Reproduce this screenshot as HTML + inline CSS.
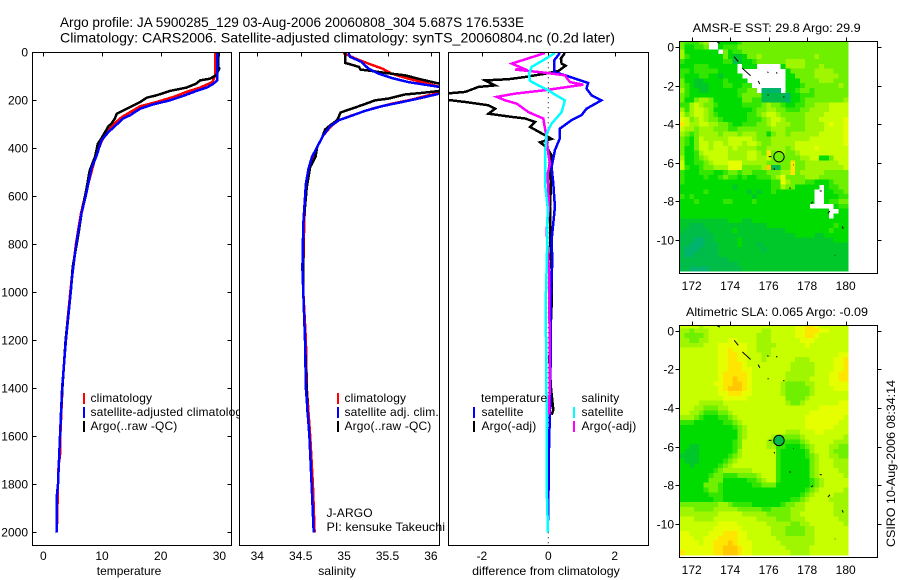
<!DOCTYPE html>
<html>
<head>
<meta charset="utf-8">
<title>Argo profile</title>
<style>
html,body{margin:0;padding:0;background:#fff;}
svg{display:block;}
text{font-family:"Liberation Sans",sans-serif;font-size:12px;fill:#000;}
.title{font-size:14px;}
.leg{letter-spacing:.15px;}
</style>
</head>
<body>
<svg id="chart" xmlns="http://www.w3.org/2000/svg" width="900" height="580" viewBox="0 0 900 580">
<defs>
<clipPath id="clip-temp"><rect x="32" y="52" width="200" height="494"/></clipPath>
<clipPath id="clip-sal"><rect x="239" y="52" width="201" height="494"/></clipPath>
<clipPath id="clip-diff"><rect x="448" y="52" width="201" height="494"/></clipPath>
<clipPath id="clip-sst"><rect x="679" y="41.5" width="199" height="232"/></clipPath>
<clipPath id="clip-sla"><rect x="679" y="325.5" width="199" height="232"/></clipPath>
</defs>
<rect x="0" y="0" width="900" height="580" fill="#fff"/>
<text class="title" x="60" y="27" textLength="464" lengthAdjust="spacingAndGlyphs">Argo profile: JA 5900285_129 03-Aug-2006 20060808_304 5.687S 176.533E</text>
<text class="title" x="60" y="42.5" textLength="555" lengthAdjust="spacingAndGlyphs">Climatology: CARS2006. Satellite-adjusted climatology: synTS_20060804.nc (0.2d later)</text>

<g id="panel-temp"></g>
<g>
<rect x="83" y="393" width="2" height="11" fill="#f00"/>
<rect x="83" y="407" width="2" height="11" fill="#00f"/>
<rect x="83" y="421" width="2" height="11" fill="#000"/>
<text class="leg" x="90.5" y="402">climatology</text>
<text class="leg" x="90.5" y="416">satellite-adjusted climatology</text>
<text class="leg" x="90.5" y="430">Argo(..raw -QC)</text>
</g>
<g id="panel-sal"></g>
<g>
<rect x="337" y="393" width="2" height="11" fill="#f00"/>
<rect x="337" y="407" width="2" height="11" fill="#00f"/>
<rect x="337" y="421" width="2" height="11" fill="#000"/>
<text class="leg" x="344.5" y="402">climatology</text>
<text class="leg" x="344.5" y="416">satellite adj. clim.</text>
<text class="leg" x="344.5" y="430">Argo(..raw -QC)</text>
<text class="leg" x="326.5" y="517">J-ARGO</text>
<text x="326.5" y="531" textLength="118.5" lengthAdjust="spacingAndGlyphs">PI: kensuke Takeuchi</text>
</g>
<g id="panel-diff"></g>
<g>
<rect x="473" y="407" width="2" height="11" fill="#00f"/>
<rect x="473" y="421" width="2" height="11" fill="#000"/>
<rect x="573" y="407" width="2" height="11" fill="#0ff"/>
<rect x="573" y="421" width="2" height="11" fill="#f0f"/>
<text class="leg" x="481" y="402">temperature</text>
<text class="leg" x="481.5" y="416">satellite</text>
<text class="leg" x="481.5" y="430">Argo(-adj)</text>
<text class="leg" x="581.5" y="402">salinity</text>
<text class="leg" x="581.5" y="416">satellite</text>
<text class="leg" x="581.5" y="430">Argo(-adj)</text>
</g>
<g id="map-sst"></g>
<g id="map-sla"></g>
<text x="692.7" y="32" textLength="168" lengthAdjust="spacingAndGlyphs">AMSR-E SST: 29.8 Argo: 29.9</text>
<text x="686" y="316" textLength="182" lengthAdjust="spacingAndGlyphs">Altimetric SLA: 0.065 Argo: -0.09</text>
<text transform="translate(895,547) rotate(-90)" textLength="167" lengthAdjust="spacingAndGlyphs">CSIRO 10-Aug-2006 08:34:14</text>
</svg>
<script>
// ---- axis tick data ----
const depthTicks = [0,200,400,600,800,1000,1200,1400,1600,1800,2000];
const tempTicks = [0,10,20,30];
const salTicks = [34,34.5,35,35.5,36];
const diffTicks = [-2,0,2];
const lonTicks = [172,174,176,178,180];
const latTicks = [0,-2,-4,-6,-8,-10];

// ---- temperature profiles ----
const tempClimDepth = [0,96,124,147,165,186,207,225,249,269,299,332,367,436,589,672,800,940,1000,1200,1400,1600,1680,1720,1800,2000];
const tempClimValue = [29.3,29.3,28.8,26.7,24.4,22.2,19.3,16.5,14.8,13.4,12,10.9,10,8.9,7.2,6.4,5.55,4.85,4.6,3.8,3.25,2.9,2.85,2.6,2.5,2.3];
const tempSatDepth = [0,117,133,147,161,182,200,217,235,262,276,308,332,367,429,485,589,672,769,839,936,992,1200,1400,1600,1800,1850,1950,2000];
const tempSatValue = [29.6,29.6,28.9,27.8,26.1,23.8,21.6,18.7,16.5,14.8,13.6,12.2,11.1,9.9,9.1,8.2,7.3,6.5,5.8,5.4,4.9,4.7,3.85,3.2,2.85,2.5,2.3,2.3,2.25];
const tempArgoDepth = [0,60,68,96,110,117,130,147,161,179,189,207,235,256,276,297,308,325,367,380,436,492,575,672,756,811,894,992,1200,1400,1510];
const tempArgoValue = [29.8,29.8,30,29.4,28.4,26.7,26.1,24.4,21.6,19.3,17.6,16.5,14.2,12.5,12.2,11.6,11.1,10.7,9.7,9.3,8.8,7.9,7.3,6.5,6,5.6,5,4.7,3.8,3.25,3];

// ---- salinity profiles ----
const salClimDepth = [3,26,47,68,89,110,131,144,150,169,179,197,214,235,258,283,308,346,394,436,485,547,631,714,900,1000,1200,1400,1600,1800,2000];
const salClimValue = [34.99,35.13,35.28,35.44,35.55,35.74,35.97,36.1,36.15,36.1,35.97,35.78,35.55,35.32,35.13,34.94,34.85,34.76,34.69,34.64,34.6,34.57,34.55,34.54,34.53,34.53,34.56,34.57,34.61,34.64,34.66];
const salSatDepth = [3,19,40,68,89,107,124,150,172,189,207,224,244,269,283,308,346,394,436,485,547,631,714,900,1000,1200,1400,1600,1800,2000];
const salSatValue = [35.05,35.07,35.2,35.28,35.4,35.55,35.74,36.2,36.1,35.9,35.67,35.44,35.24,35.05,34.94,34.84,34.76,34.69,34.63,34.59,34.56,34.545,34.53,34.52,34.53,34.55,34.56,34.6,34.625,34.65];
const salArgoDepth = [3,44,50,61,72,78,86,96,114,131,148,161,169,176,193,200,221,237,251,283,304,322,353,394,436,478,561,644,714,1000,1200,1510];
const salArgoValue = [35.01,35.01,35.07,35.17,35.19,35.32,35.47,35.7,35.9,36.1,36.25,36.1,35.9,35.7,35.51,35.36,35.2,35.07,34.96,34.92,34.84,34.78,34.75,34.69,34.67,34.61,34.57,34.55,34.53,34.53,34.55,34.58];

// ---- differences from climatology ----
const diffTempSatDepth = [3,33,82,100,128,151,179,200,235,262,283,318,358,408,478,547,644,783,867,1054,1283,1490,1650,1900,1950];
const diffTempSatValue = [0.35,0.18,0.18,0.6,1.2,1.15,1.3,1.6,1.15,1,0.7,0.35,0.35,0.2,0.1,0.15,0.2,0.1,0.12,0.07,0.07,0.05,0.02,0,0];
const diffTempArgoDepth = [3,26,47,56,78,89,103,112,117,138,144,165,172,197,207,221,235,256,269,276,290,311,361,375,396,429,478,547,644,756,867,908,1054,1283,1400,1490,1510];
const diffTempArgoValue = [0.5,0.38,0.4,0.52,0.3,-0.1,-0.7,-1.2,-1.9,-1.6,-2.1,-2.5,-3.1,-3.1,-2.5,-1.8,-1.6,-1.8,-1.1,-0.7,-0.4,-0.55,0.1,-0.25,-0.05,0.1,0.02,0.08,0.05,0.05,0.08,0.1,0.1,0.03,0.08,0.15,0.1];
const diffSalSatDepth = [3,33,61,89,119,138,158,172,200,249,297,338,422,547,644,783,908,1054,1283,1490,1800,2000];
const diffSalSatValue = [0.2,-0.15,-0.5,-0.58,-0.55,-0.3,0,0.15,0.5,0.4,0.1,-0.05,-0.1,-0.1,-0.02,-0.03,-0.05,-0.08,-0.06,-0.05,-0.05,-0.01];
const diffSalArgoDepth = [3,47,68,72,85,96,124,135,158,172,186,200,214,249,276,318,353,422,464,506,644,742,908,1054,1283,1490,1510];
const diffSalArgoValue = [-0.1,-1.1,-0.75,-1,-0.1,0.5,0.65,1.05,-0.1,-1,-1.55,-1.3,-0.95,-0.6,-0.15,-0.1,-0.05,0,0.05,-0.02,0.02,-0.05,0.02,0.03,0.05,0.03,0.03];

// ---- gridded maps: one character per cell (colour level, '.' = missing) ----
const sstRows = [
"54445 6..33 33455 55555 55555 55555 55555",
"53344 5..34 44555 55555 55555 55555 55555",
"63333 333.5 34455 55555 55555 55555 55555",
"64333 33335 32235 56555 55555 55565 55555",
"43333 33334 41233 45555 55666 65555 55555",
"33344 43333 33.33 3.... .3666 65556 55555",
"44344 44433 33... ..... ..355 55566 66555",
"43334 43323 333.. ..... ..335 55566 66655",
"53322 33334 3333. ..... ..333 55556 66555",
"54322 23334 43344 ..... ..333 45555 55565",
"64332 23333 33445 5.000 0.334 55455 55555",
"54333 33333 33455 55111 11033 44455 55555",
"53356 65333 33355 44111 11033 45555 55556",
"44676 55433 33344 44565 54334 45566 67777",
"64677 65333 33333 45566 55444 55666 67777",
"75677 65433 33334 45677 65555 56666 77777",
"87567 65543 33334 44567 76555 56667 77778",
"97667 76655 43344 45567 66655 56666 78778",
"76656 66555 44555 55556 66555 56666 77778",
"65456 66656 66566 65535 66566 66667 77778",
"54357 66666 77777 65556 66666 66777 77778",
"54357 76776 77767 76556 66667 77777 77778",
"53357 76777 67666 65566 66567 77787 77777",
"53346 77777 66667 76595 66556 77777 77777",
"63345 67777 66667 76675 55555 66773 35777",
"73344 56777 88866 66655 55595 56666 66677",
"74334 55666 88855 556a1 15595 56666 66667",
"43334 44334 55455 44455 56695 66666 55555",
"43333 43345 44343 34445 68555 56665 55555",
"43333 33333 33333 33334 48655 54433 34555",
"33333 33333 32333 33334 46553 3333. 34455",
"33333 43333 33332 32334 33333 333.. 33445",
"43433 33333 33333 23333 33333 333.. 33344",
"33343 33334 43333 43333 33333 333.. 34455",
"33333 33333 33333 33333 33333 33... ..344",
"33333 33333 33333 33333 33333 33333 3..33",
"33333 33333 33333 33333 33333 33333 3.333",
"22222 22222 33322 33333 33333 33333 33333",
"22111 22222 22222 22233 33333 33333 33433",
"21111 12222 23222 22222 22333 33333 34333",
"11111 11222 22222 22222 22223 33322 33333",
"11100 11222 22322 22222 22222 22222 22333",
"11000 11122 22322 21222 22222 22222 22222",
"10001 11122 22222 22122 22222 22222 22222",
"10011 11122 22222 22222 22222 22222 22222",
"11111 11111 22222 22222 22222 22222 22222",
"11111 11111 11222 22222 22222 22222 22222",
"11000 01111 11122 22222 22222 22222 22222"
];
const slaRows = [
"77776 77777 77777 77777 77778 89987 77777",
"66566 67777 77777 77667 77778 89998 87777",
"65555 67777 77777 76667 77778 89987 77777",
"66556 67777 88777 76667 77777 88877 77777",
"66666 77788 88887 76666 77777 78777 77777",
"77777 77788 98887 76667 77777 77777 77777",
"77777 77788 99887 77667 77777 77777 77788",
"77777 77788 99887 77677 77776 66777 77889",
"77777 77788 99987 77777 77766 66677 77889",
"77777 77788 99988 77777 77766 66677 77889",
"77777 77789 99998 77777 77666 66677 78899",
"77777 77789 9a998 77777 77666 66777 78899",
"77777 77889 9aa98 77777 76555 56677 78888",
"77777 77789 aaa98 77777 76555 55677 77888",
"77777 77788 99988 77777 76555 55677 77777",
"77777 77778 88887 77777 77555 56777 77777",
"77776 66667 77777 77777 77655 67777 77788",
"77766 55566 77777 77777 77777 77778 88888",
"77665 44455 67777 77777 77777 77888 88888",
"66654 33344 56777 77777 77777 78888 88887",
"44433 33334 45677 77777 77777 78888 88877",
"33333 33333 34567 77777 77777 78888 88777",
"33333 33333 33567 77777 77666 77788 77777",
"33333 33333 33567 77776 65555 67777 77776",
"33333 33333 34577 77765 54444 56777 77666",
"33223 33333 34577 77766 44333 45677 76655",
"32223 33333 34677 77777 43333 34677 76555",
"22223 33333 45677 77777 43333 34567 76655",
"32223 33334 56777 77777 43333 33567 77666",
"33233 33345 67777 77777 43333 33567 77666",
"33333 33456 66666 77777 43333 33567 77766",
"33333 34554 44555 56777 43333 33567 77776",
"33333 35553 33334 45677 43333 33456 77777",
"33333 55543 33333 44555 33333 33456 77777",
"33333 45543 33333 33333 33333 34567 77776",
"33333 34443 33333 33333 33333 45677 77666",
"33333 33443 33333 33333 33344 56777 76666",
"55555 55566 54444 33333 34556 67777 77666",
"66655 55666 66555 55445 55566 67777 77666",
"66666 66677 77766 66655 55566 77777 77666",
"77766 66777 77777 76666 55566 67777 77766",
"77777 77788 88777 77766 66655 66777 77776",
"77777 77888 88877 77776 66555 56677 77777",
"88777 78889 99887 77776 66555 56677 77777",
"88877 88899 99887 77777 66666 66677 77777",
"88887 88999 a9888 77777 76666 66677 77777",
"88888 8899a aa988 77777 77666 66777 77777",
"98888 8899a aa988 77777 77766 66777 77777"
];

// ---- coastline fragments (lon, lat pairs) ----
const islandLon = [[173.33,173.47],[174.21,174.42],[174.63,175.06],[175.45,175.54],[175.94,175.98],[176.4,176.44],[175.94,176.0],[176.75,176.82],[176.0,176.14],[176.28,176.31],[177.27,177.3],[177.09,177.12],[178.65,178.76],[178.2,178.3],[179.08,179.18],[179.82,179.87],[179.43,179.46]];
const islandLat = [[0.24,0.19],[-0.5,-0.76],[-1.1,-1.49],[-1.76,-1.92],[-1.28,-1.34],[-1.31,-1.38],[-2.49,-2.49],[-2.59,-2.59],[-5.68,-5.68],[-6.28,-6.36],[-6.11,-6.11],[-7.28,-7.36],[-7.46,-7.46],[-8.1,-8.02],[-8.62,-8.5],[-9.3,-9.42],[-10.79,-10.79]];
const floatLon = [176.533];
const floatLat = [-5.687];
const floatLevels = [5, 1];

// ---- scales ----
function yDepth(d){ return 52.3 + 0.24 * d; }
function xTemp(t){ return 43.3 + 5.87 * t; }
function xSal(s){ return 257.3 + 86.8 * (s - 34); }
function xDiff(v){ return 548.3 + 33.2 * v; }
function xLon(lon){ return 691.7 + 19.25 * (lon - 172); }
function ySst(lat){ return 47 - 19.3 * lat; }
function ySla(lat){ return 330.7 - 19.3 * lat; }

const NS = 'http://www.w3.org/2000/svg';
function mk(tag, parent, attrs){
  const el = document.createElementNS(NS, tag);
  for (const k in attrs) el.setAttribute(k, attrs[k]);
  parent.appendChild(el);
  return el;
}
function levelColor(c){
  const pal = ['#00b46e','#00bc48','#00c82a','#00dc00','#32e600','#6ef000','#a0f500','#c8ff00','#e6ff00','#ffe600','#ffc800'];
  return pal[parseInt(c, 16)];
}

function drawFrame(g, x0, y0, x1, y1){
  const r = mk('rect', g, {x:x0, y:y0, width:x1-x0, height:y1-y0, fill:'none', stroke:'#000', 'stroke-width':1, 'shape-rendering':'crispEdges'});
  
  
}
function tickLine(g, x1, y1, x2, y2){
  const t = mk('line', g, {x1:x1, y1:y1, x2:x2, y2:y2, stroke:'#000', 'stroke-width':1, 'shape-rendering':'crispEdges'});
  
  
}
function label(g, x, y, str, anchor){
  const t = mk('text', g, {x:x, y:y, 'text-anchor':anchor});
  t.textContent = str;
  
  
}
function profile(g, clip, name, color, xs, depths, values){
  const pts = depths.map(function(d, i){ return xs(values[i]).toFixed(1) + ',' + yDepth(d).toFixed(1); }).join(' ');
  const p = mk('polyline', g, {points:pts, fill:'none', stroke:color, 'stroke-width':2.5, 'clip-path':'url(#' + clip + ')', 'shape-rendering':'crispEdges'});
  
  
}
function panel(id, x0, x1, clip, xs, ticks, tickText, xlabel, xlabelX, xlabelLen){
  const g = document.getElementById(id);
  const bg = mk('rect', g, {x:x0, y:52.5, width:x1-x0, height:493, fill:'#fff'});
  
  
  ticks.forEach(function(t){
    tickLine(g, Math.round(xs(t))+0.5, 52.5, Math.round(xs(t))+0.5, 56.5);
    label(g, xs(t), 560, tickText(t), 'middle');
  });
  const xl = mk('text', g, {x:xlabelX, y:575, 'text-anchor':'middle', textLength:xlabelLen, lengthAdjust:'spacingAndGlyphs'});
  xl.textContent = xlabel;
  
  
  return g;
}

// Temperature panel
const gT = panel('panel-temp', 32.5, 231.5, 'clip-temp', xTemp, tempTicks, String, 'temperature', 129, 64.5);
depthTicks.forEach(function(d){
  const y = Math.round(yDepth(d)) + 0.5;
  tickLine(gT, 32.5, y, 36.5, y);
  tickLine(gT, 227.5, y, 231.5, y);
  label(gT, 28, y + 4, String(d), 'end');
});
profile(gT, 'clip-temp', 'temperature-climatology-line', '#f00', xTemp, tempClimDepth, tempClimValue);
profile(gT, 'clip-temp', 'temperature-argo-line', '#000', xTemp, tempArgoDepth, tempArgoValue);
profile(gT, 'clip-temp', 'temperature-satellite-line', '#00f', xTemp, tempSatDepth, tempSatValue);
drawFrame(gT, 32.5, 52.5, 231.5, 545.5);

// Salinity panel
const gS = panel('panel-sal', 239.5, 439.5, 'clip-sal', xSal, salTicks, String, 'salinity', 337, 37.7);
profile(gS, 'clip-sal', 'salinity-climatology-line', '#f00', xSal, salClimDepth, salClimValue);
profile(gS, 'clip-sal', 'salinity-argo-line', '#000', xSal, salArgoDepth, salArgoValue);
profile(gS, 'clip-sal', 'salinity-satellite-line', '#00f', xSal, salSatDepth, salSatValue);
drawFrame(gS, 239.5, 52.5, 439.5, 545.5);

// Difference panel
const gD = panel('panel-diff', 448.5, 648.5, 'clip-diff', xDiff, diffTicks, String, 'difference from climatology', 546, 147.7);
const zero = mk('line', gD, {x1:xDiff(0), y1:yDepth(0), x2:xDiff(0), y2:545, stroke:'#000', 'stroke-width':1, 'stroke-dasharray':'1 4'});


profile(gD, 'clip-diff', 'diff-temperature-argo-line', '#000', xDiff, diffTempArgoDepth, diffTempArgoValue);
profile(gD, 'clip-diff', 'diff-temperature-satellite-line', '#00f', xDiff, diffTempSatDepth, diffTempSatValue);
profile(gD, 'clip-diff', 'diff-salinity-argo-line', '#f0f', xDiff, diffSalArgoDepth, diffSalArgoValue);
profile(gD, 'clip-diff', 'diff-salinity-satellite-line', '#0ff', xDiff, diffSalSatDepth, diffSalSatValue);
drawFrame(gD, 448.5, 52.5, 648.5, 545.5);

// Maps
function drawMap(id, clip, rows, ys, top, bottom, labelY, floatLevel){
  const g = document.getElementById(id);
  const cellW = 0.25 * 19.25, cellH = 0.25 * 19.3;
  const cells = mk('g', g, {'clip-path':'url(#' + clip + ')', 'shape-rendering':'crispEdges'});
  
  
  rows.forEach(function(row, k){
    const chars = row.replace(/ /g, '');
    const lat = 0.25 - 0.25 * k;
    for (let j = 0; j < chars.length; j++){
      if (chars[j] === '.') continue;
      const lon = 171.5 + 0.25 * j;
      const c = mk('rect', cells, {x:(xLon(lon) - cellW / 2).toFixed(2), y:(ys(lat) - cellH / 2).toFixed(2), width:(cellW + 0.3).toFixed(2), height:(cellH + 0.3).toFixed(2), fill:levelColor(chars[j])});
      
      
    }
  });
  islandLon.forEach(function(lons, i){
    const isl = mk('line', g, {x1:xLon(lons[0]), y1:ys(islandLat[i][0]), x2:xLon(lons[1]), y2:ys(islandLat[i][1]), stroke:'#000', 'stroke-width':1});
    
    
  });
  const mark = mk('circle', g, {cx:xLon(floatLon[0]), cy:ys(floatLat[0]), r:5.2, fill:levelColor(String(floatLevel)), stroke:'#000', 'stroke-width':1});
  
  
  drawFrame(g, 679.5, top, 877.5, bottom);
  lonTicks.forEach(function(t){
    const x = Math.round(xLon(t)) + 0.5;
    tickLine(g, x, top - 4, x, top);
    label(g, xLon(t), labelY, String(t), 'middle');
  });
  latTicks.forEach(function(t){
    const y = Math.round(ys(t)) + 0.5;
    tickLine(g, 675.5, y, 679.5, y);
    tickLine(g, 877.5, y, 881.5, y);
    label(g, 674, y + 4, String(t), 'end');
  });
}
drawMap('map-sst', 'clip-sst', sstRows, ySst, 41.5, 273.5, 290, floatLevels[0]);
drawMap('map-sla', 'clip-sla', slaRows, ySla, 325.5, 557.5, 574, floatLevels[1]);
</script>
</body>
</html>
